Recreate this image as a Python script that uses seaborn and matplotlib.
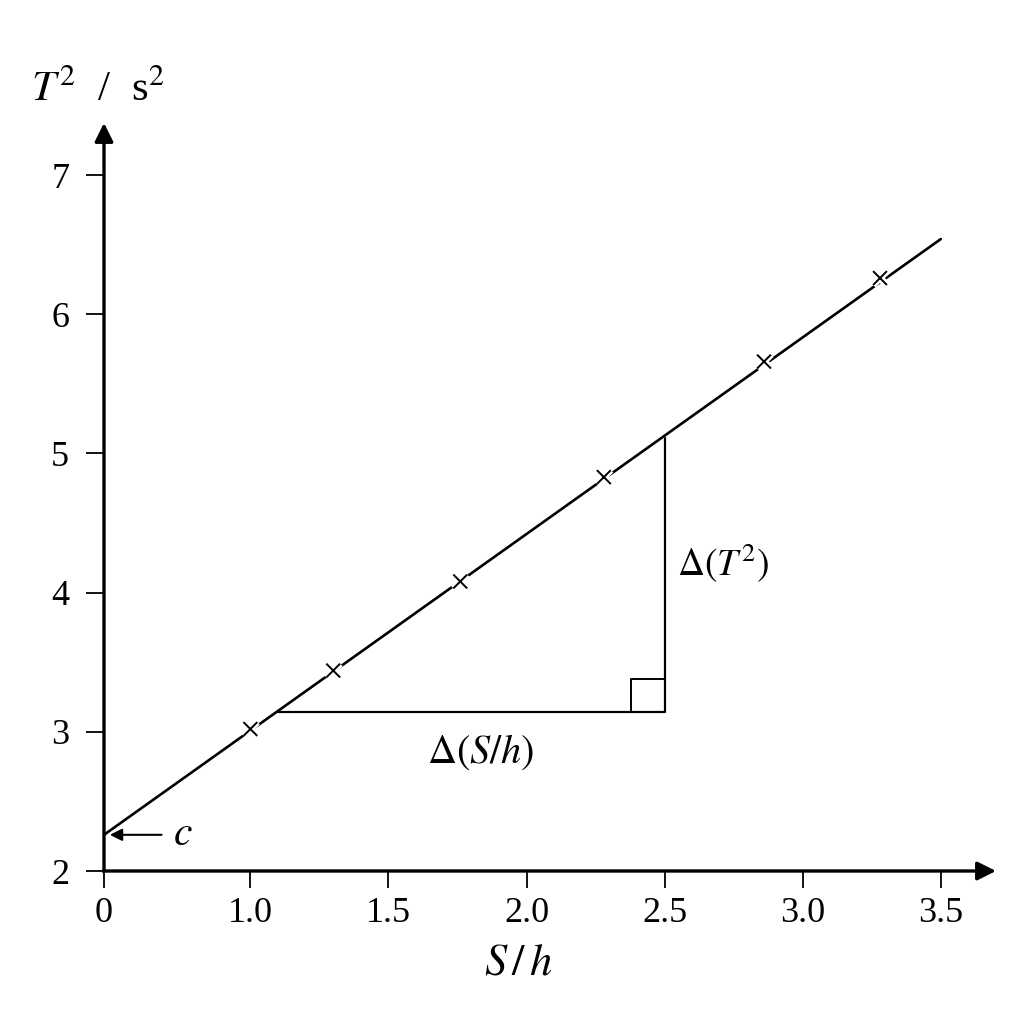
import numpy as np
import matplotlib
matplotlib.use("Agg")
import matplotlib.pyplot as plt
import matplotlib.patheffects as pe
import seaborn as sns

# axis ticks
x_ticks = [0, 1.0, 1.5, 2.0, 2.5, 3.0, 3.5]
x_tick_labels = ["0", "1.0", "1.5", "2.0", "2.5", "3.0", "3.5"]
y_ticks = [2, 3, 4, 5, 6, 7]

# measured points (S/h, T^2)
s_over_h = [1.00, 1.30, 1.76, 2.28, 2.86, 3.28]
t_squared = [3.02, 3.44, 4.08, 4.83, 5.66, 6.26]

# best-fit line end points and intercept
fit_x = [0.0, 3.5]
fit_y = [2.26, 6.54]
intercept_c = 2.26

# gradient triangle corners
tri_x = [1.10, 2.50]
tri_y = [3.14, 5.11]

sns.set_theme(style="white")
plt.rcParams['font.family'] = ['Liberation Serif', 'DejaVu Serif']
plt.rcParams['mathtext.fontset'] = 'stix'
for key in ['text.color', 'axes.labelcolor', 'xtick.color', 'ytick.color']:
    plt.rcParams[key] = 'black'

# x axis jumps from 0 straight to 1.0 (compressed gap)
gap = 0.53
def fwd(x):
    return np.interp(x, [-10, 0, 1, 20], [-10, 0, gap, gap + 19])
def inv(u):
    return np.interp(u, [-10, 0, gap, gap + 19], [-10, 0, 1, 20])

fig = plt.figure(figsize=(10.24, 10.24), dpi=100)
ax = fig.add_axes([104/1024, 153/1024, 892/1024, 748/1024])
ax.set_xscale('function', functions=(fwd, inv))
ax.set_xlim(0, 3.70)
ax.set_ylim(2, 7.374)

# fit line
sns.lineplot(x=fit_x, y=fit_y, color='black', linewidth=1.9, ax=ax)

# data crosses with a white halo so the line breaks round them
sns.scatterplot(x=s_over_h, y=t_squared, marker='x', s=100, color='black',
                linewidth=1.4, ax=ax, zorder=4)
ax.collections[-1].set_path_effects([pe.Stroke(linewidth=5, foreground='white'), pe.Normal()])

# gradient triangle
ax.plot([tri_x[0], tri_x[1], tri_x[1]], [tri_y[0], tri_y[0], tri_y[1]],
        color='black', linewidth=1.6)
sq_w, sq_h = 0.12, 0.237
ax.plot([tri_x[1] - sq_w, tri_x[1] - sq_w, tri_x[1]],
        [tri_y[0], tri_y[0] + sq_h, tri_y[0] + sq_h], color='black', linewidth=1.4)

ax.text(1.835, 2.855, r'$\Delta(S/h)$', fontsize=29, ha='center', va='center')
ax.text(2.713, 4.213, r'$\Delta(T^2)$', fontsize=27, ha='center', va='center')

# intercept label
ax.annotate(r'$c$', xy=(0.04, intercept_c), xytext=(0.54, intercept_c),
            fontsize=30, ha='center', va='center',
            arrowprops=dict(arrowstyle='-|>', color='black', lw=1.5,
                            mutation_scale=18, shrinkA=6, shrinkB=0))

# axes drawn as arrows
for sp in ax.spines.values():
    sp.set_visible(False)
arrow = dict(arrowstyle='-|>', color='black', lw=2.4, mutation_scale=28,
             shrinkA=0, shrinkB=0)
ax.annotate('', xy=(1, 0), xytext=(-0.001, 0), xycoords='axes fraction', arrowprops=arrow)
ax.annotate('', xy=(0, 1), xytext=(0, -0.001), xycoords='axes fraction', arrowprops=arrow)

ax.set_xticks(x_ticks)
ax.set_xticklabels(x_tick_labels)
ax.set_yticks(y_ticks)
ax.tick_params(axis='x', which='both', bottom=True, direction='out', length=12,
               width=1.3, labelsize=26, pad=7, color='black')
ax.tick_params(axis='y', which='both', left=True, direction='out', length=13,
               width=1.3, labelsize=26, pad=12, color='black')
ax.minorticks_off()
ax.grid(False)

ax.set_xlabel(r'$S\,/\,h$', fontsize=32)
ax.xaxis.set_label_coords(0.465, -0.123)
ax.xaxis.label.set_va('center')
ax.set_ylabel(r'$T^2$  /  s$^2$', fontsize=31, rotation=0)
ax.yaxis.set_label_coords(-0.007, 1.044)
ax.yaxis.label.set_va('center')
ax.yaxis.label.set_ha('center')

fig.savefig('out.png', dpi=100, facecolor='white')
